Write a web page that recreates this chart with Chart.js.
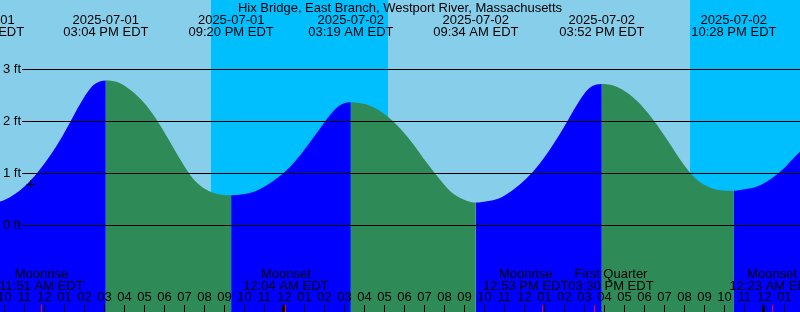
<!DOCTYPE html>
<html>
<head>
<title>Hix Bridge tides</title>
<script src="https://cdn.jsdelivr.net/npm/chart.js"></script>
<style>
  body { margin: 0; background: #87ceeb; }
  canvas { display: block; }
</style>
</head>
<body>
<canvas id="tideChart" width="800" height="312"></canvas>
<script>
const title = 'Hix Bridge, East Branch, Westport River, Massachusetts';

// highs and lows
const eventTimes = ['2025-07-01 08:51', '2025-07-01 15:04', '2025-07-01 21:20', '2025-07-02 03:19',
                    '2025-07-02 09:34', '2025-07-02 15:52', '2025-07-02 22:28'];
const eventFeet = [0.40, 2.79, 0.58, 2.37, 0.44, 2.72, 0.67];

// extra readings off the curve between highs and lows
const curveTimes = [
  '2025-07-01 09:28', '2025-07-01 10:06', '2025-07-01 10:43', '2025-07-01 11:20', '2025-07-01 11:57',
  '2025-07-01 12:35', '2025-07-01 13:12', '2025-07-01 13:49', '2025-07-01 14:27',
  '2025-07-01 15:42', '2025-07-01 16:19', '2025-07-01 16:57', '2025-07-01 17:34', '2025-07-01 18:12',
  '2025-07-01 18:50', '2025-07-01 19:27', '2025-07-01 20:05', '2025-07-01 20:42',
  '2025-07-01 21:56', '2025-07-01 22:32', '2025-07-01 23:08', '2025-07-01 23:44', '2025-07-02 00:20',
  '2025-07-02 00:55', '2025-07-02 01:31', '2025-07-02 02:07', '2025-07-02 02:43',
  '2025-07-02 03:57', '2025-07-02 04:34', '2025-07-02 05:12', '2025-07-02 05:49', '2025-07-02 06:27',
  '2025-07-02 07:04', '2025-07-02 07:42', '2025-07-02 08:19', '2025-07-02 08:57',
  '2025-07-02 10:12', '2025-07-02 10:50', '2025-07-02 11:27', '2025-07-02 12:05', '2025-07-02 12:43',
  '2025-07-02 13:21', '2025-07-02 13:59', '2025-07-02 14:36', '2025-07-02 15:14',
  '2025-07-02 16:32', '2025-07-02 17:11', '2025-07-02 17:51', '2025-07-02 18:30', '2025-07-02 19:10',
  '2025-07-02 19:50', '2025-07-02 20:29', '2025-07-02 21:09', '2025-07-02 21:48',
  '2025-07-02 23:05', '2025-07-02 23:42', '2025-07-03 00:20', '2025-07-03 00:57', '2025-07-03 01:34', '2025-07-03 01:47'];
const curveFeet = [
  0.43, 0.51, 0.66, 0.88, 1.17, 1.52, 1.93, 2.36, 2.70,
  2.75, 2.60, 2.37, 2.06, 1.66, 1.24, 0.89, 0.69, 0.60,
  0.60, 0.66, 0.78, 0.94, 1.15, 1.42, 1.73, 2.05, 2.30,
  2.34, 2.25, 2.08, 1.85, 1.56, 1.23, 0.92, 0.65, 0.50,
  0.47, 0.54, 0.69, 0.90, 1.17, 1.51, 1.90, 2.31, 2.64,
  2.68, 2.54, 2.31, 2.00, 1.63, 1.24, 0.93, 0.75, 0.68,
  0.70, 0.76, 0.90, 1.09, 1.34, 1.42];

const nightStarts = ['2025-07-01 20:18', '2025-07-02 20:18'];
const nightEnds = ['2025-07-02 05:12', '2025-07-03 05:13'];

const moonTimes = ['2025-07-01 11:51', '2025-07-02 00:04', '2025-07-02 12:53', '2025-07-02 15:30', '2025-07-03 00:23'];
const moonNames = ['Moonrise', 'Moonset', 'Moonrise', 'First Quarter', 'Moonset'];

const nowTime = '2025-07-01 11:18';
const nowFeet = 0.79;

const depthTicks = [0, 1, 2, 3];
const firstHour = 10, lastHour = 49;

const FONT = '13px "Liberation Sans", Arial, sans-serif';

// hours since 2025-07-01 00:00
function toHours(s) {
  const day = parseInt(s.slice(8, 10)) - 1;
  return day * 24 + parseInt(s.slice(11, 13)) + parseInt(s.slice(14, 16)) / 60;
}
function clock(s) {
  let hh = parseInt(s.slice(11, 13));
  const ampm = hh < 12 ? 'AM' : 'PM';
  hh = hh % 12 || 12;
  return String(hh).padStart(2, '0') + ':' + s.slice(14, 16) + ' ' + ampm + ' EDT';
}

const points = eventTimes.map((t, i) => ({x: toHours(t), y: eventFeet[i]}))
  .concat(curveTimes.map((t, i) => ({x: toHours(t), y: curveFeet[i]})))
  .sort((a, b) => a.x - b.x);

const tidePlugin = {
  id: 'tideDecor',
  beforeDraw(chart) {
    const {ctx, chartArea: a, scales: {x}} = chart;
    ctx.save();
    ctx.fillStyle = '#87ceeb';
    ctx.fillRect(a.left, a.top, a.right - a.left, a.bottom - a.top);
    ctx.fillStyle = '#00bfff';
    nightStarts.forEach((s, i) => {
      const x0 = Math.round(x.getPixelForValue(toHours(s)));
      const x1 = Math.round(x.getPixelForValue(toHours(nightEnds[i])));
      ctx.fillRect(x0, a.top, Math.min(x1, a.right) - x0, a.bottom - a.top);
    });
    ctx.restore();
  },
  afterDatasetsDraw(chart) {
    const {ctx, chartArea: a, scales: {x, y}} = chart;
    ctx.save();
    ctx.font = FONT;
    ctx.fillStyle = '#000';
    ctx.strokeStyle = '#000';
    ctx.lineWidth = 1;

    // depth lines and labels
    depthTicks.forEach(d => {
      const py = Math.floor(y.getPixelForValue(d)) + 0.5;
      ctx.beginPath();
      ctx.moveTo(22, py);
      ctx.lineTo(a.right, py);
      ctx.stroke();
      ctx.textAlign = 'left';
      ctx.textBaseline = 'middle';
      ctx.fillText(d + ' ft', 3, py);
    });

    // title and tide event labels
    ctx.textAlign = 'center';
    ctx.textBaseline = 'alphabetic';
    ctx.fillText(title, (a.left + a.right) / 2, 12);
    eventTimes.forEach(t => {
      const px = x.getPixelForValue(toHours(t));
      ctx.fillText(t.slice(0, 10), px, 24);
      ctx.fillText(clock(t), px, 36);
    });

    // hour ticks and labels
    for (let h = firstHour; h <= lastHour; h++) {
      const px = Math.floor(x.getPixelForValue(h));
      if (h % 24 === 0) ctx.fillRect(px - 2, 305, 3, 7);
      else ctx.fillRect(px, 305, 1, 7);
      ctx.fillText(String(h % 12 || 12).padStart(2, '0'), px + 0.5, 301);
    }

    // moon events: red ticks and labels, pushed apart when they collide
    const mx = moonTimes.map(t => x.getPixelForValue(toHours(t)));
    const mw = moonTimes.map((t, i) => Math.max(ctx.measureText(moonNames[i]).width, ctx.measureText(clock(t)).width));
    const lx = mx.slice();
    for (let i = 0; i < lx.length - 1; i++) {
      const need = (mw[i] + mw[i + 1]) / 2;
      const gap = lx[i + 1] - lx[i];
      if (gap < need) {
        lx[i] -= (need - gap) / 2;
        lx[i + 1] += (need - gap) / 2;
      }
    }
    moonTimes.forEach((t, i) => {
      ctx.fillStyle = '#ff0000';
      ctx.fillRect(Math.floor(mx[i]), 305, 1, 7);
      ctx.fillStyle = '#000';
      ctx.fillText(moonNames[i], lx[i], 278);
      ctx.fillText(clock(t), lx[i], 290);
    });
    ctx.restore();
  }
};

new Chart(document.getElementById('tideChart'), {
  type: 'line',
  data: {
    datasets: [{
      data: [{x: toHours(nowTime), y: nowFeet}],
      order: 0,
      showLine: false,
      pointStyle: 'cross',
      pointRadius: 4,
      borderColor: '#000',
      borderWidth: 1,
      fill: false
    }, {
      data: points,
      order: 1,
      borderWidth: 0,
      borderColor: 'rgba(0,0,0,0)',
      pointRadius: 0,
      cubicInterpolationMode: 'monotone',
      fill: 'start',
      backgroundColor: '#0000ff',
      segment: {
        backgroundColor: c => c.p1.parsed.y >= c.p0.parsed.y ? '#0000ff' : '#2e8b57'
      }
    }]
  },
  options: {
    responsive: false,
    animation: false,
    layout: {padding: 0, autoPadding: false},
    plugins: {legend: {display: false}, tooltip: {enabled: false}},
    scales: {
      x: {type: 'linear', display: false, min: 9.775, max: 49.775},
      y: {display: false, min: -1.6635, max: 4.3365}
    }
  },
  plugins: [tidePlugin]
});
</script>
</body>
</html>
